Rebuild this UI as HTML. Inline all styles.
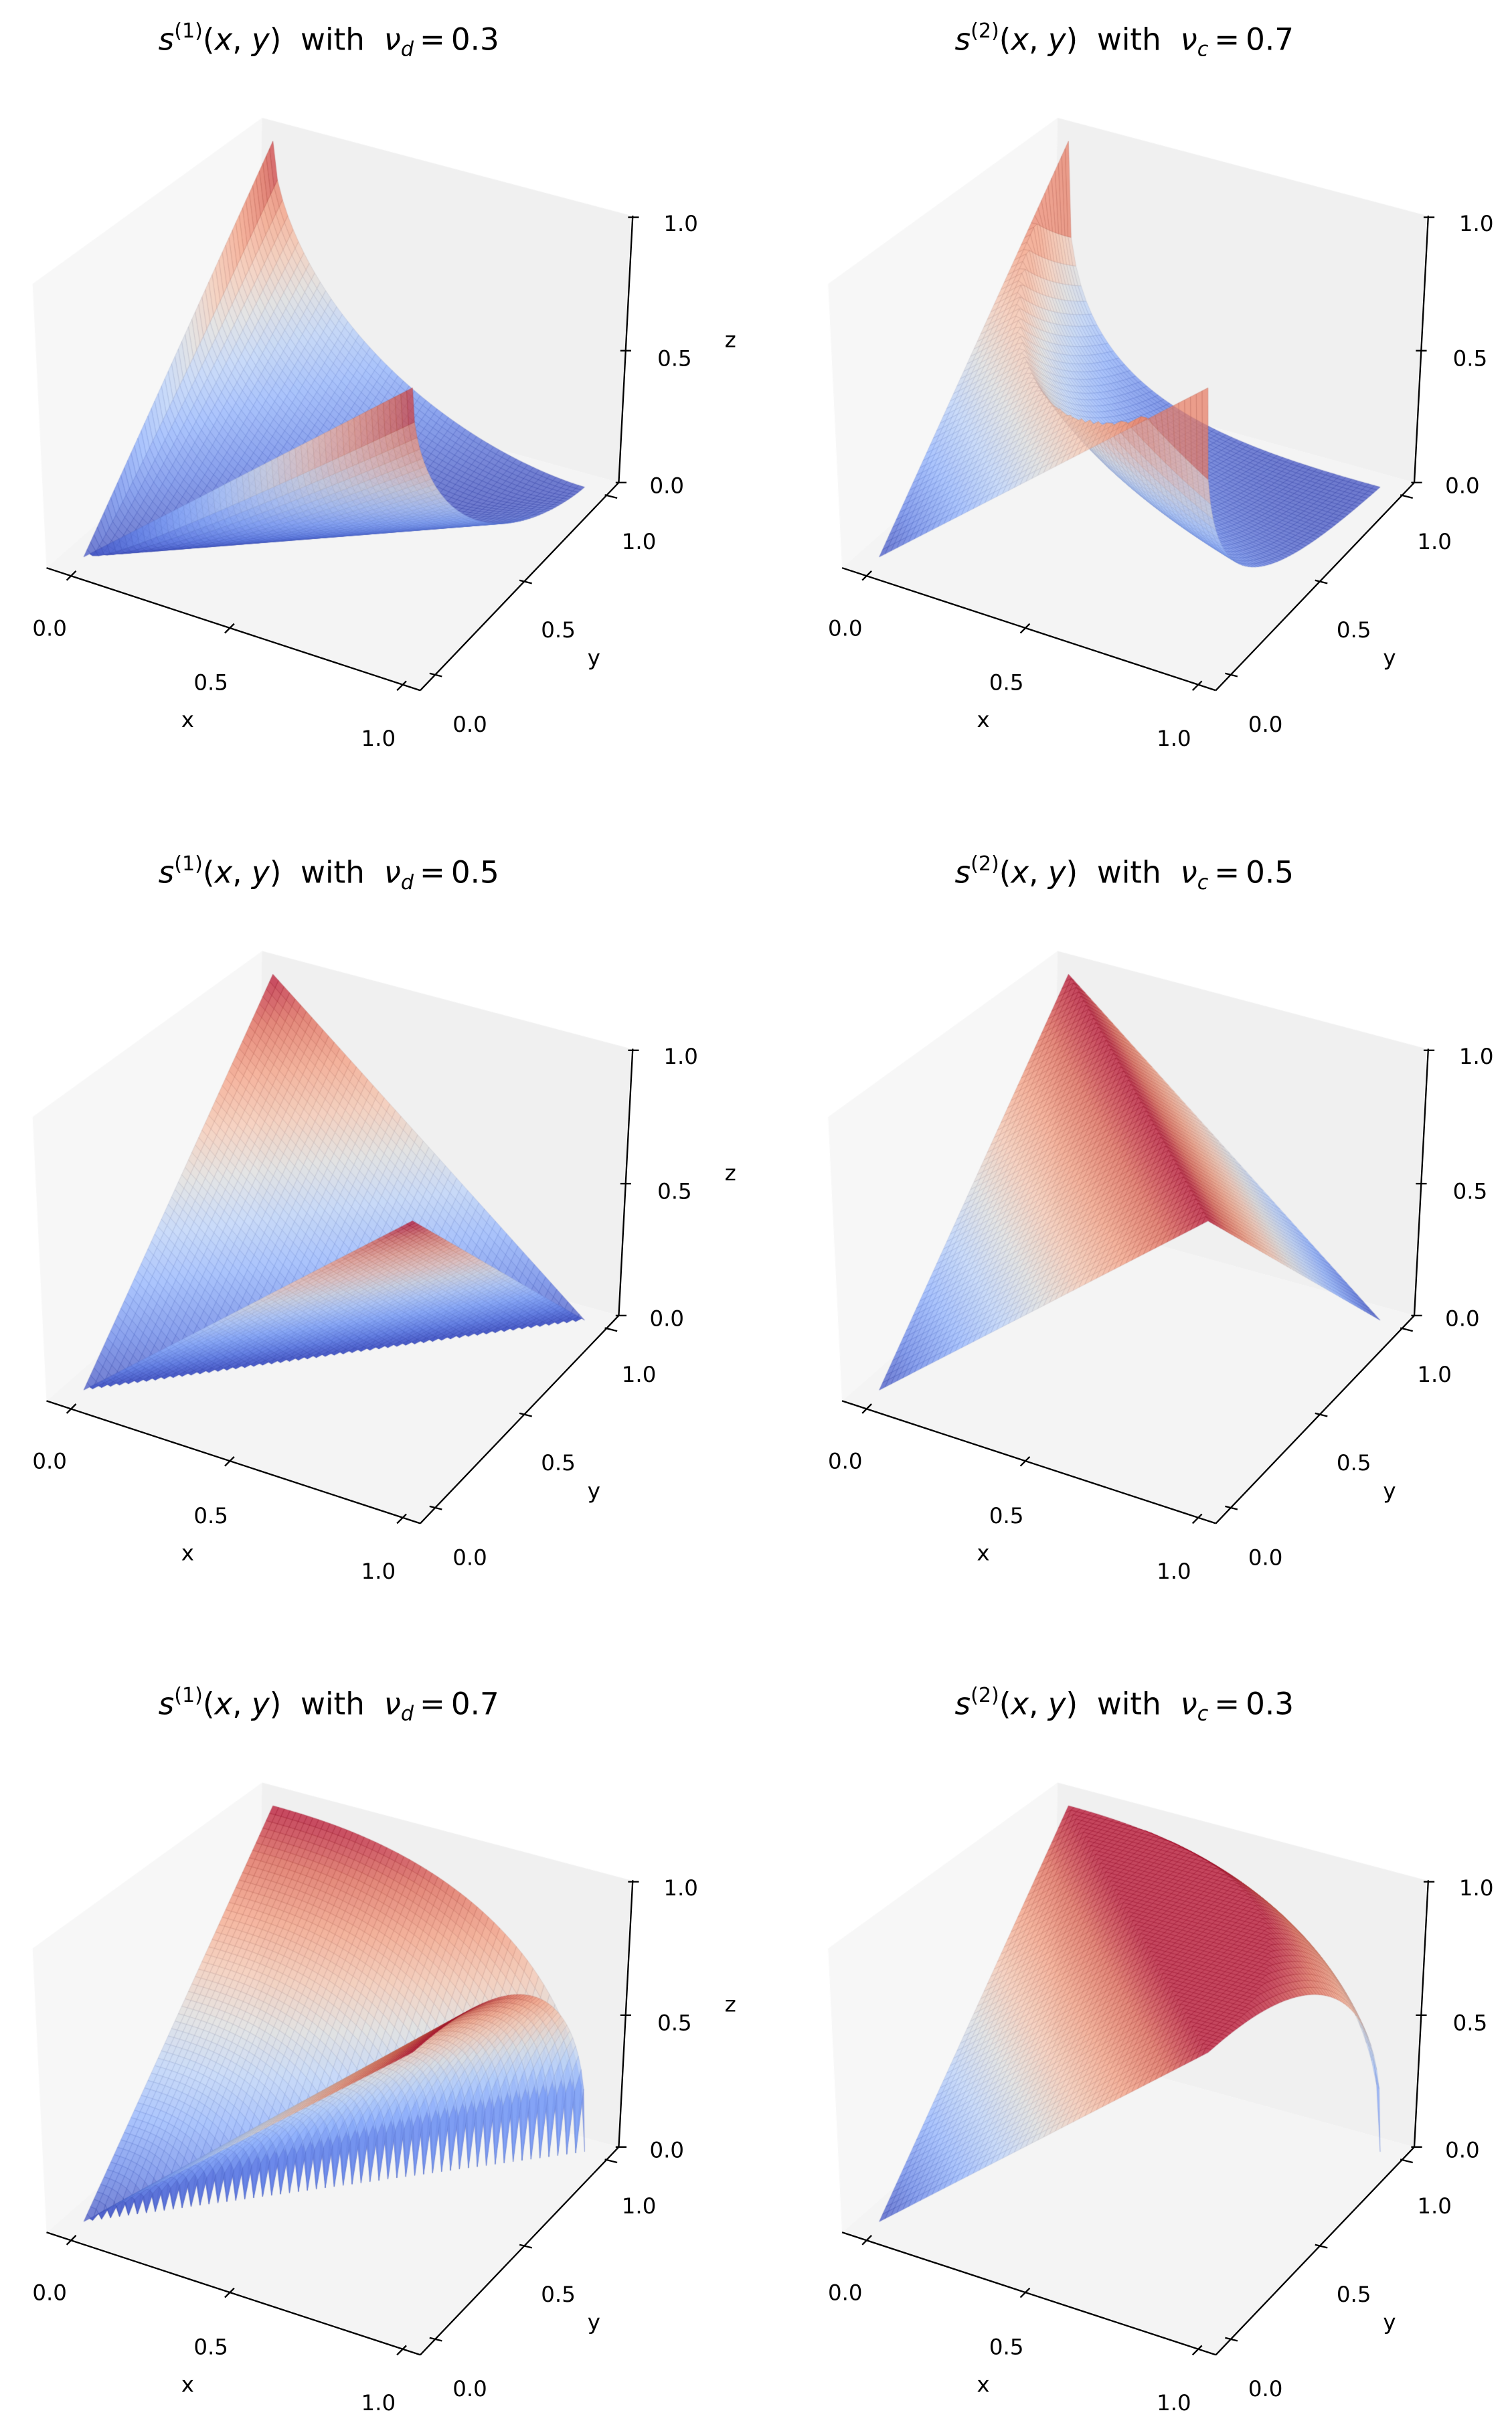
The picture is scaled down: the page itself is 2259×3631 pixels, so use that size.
<!DOCTYPE html>
<html><head><meta charset="utf-8">
<style>
html,body{margin:0;padding:0;background:#fff;}
#wrap{position:relative;width:2259px;height:3631px;overflow:hidden;}
canvas,svg{position:absolute;left:0;top:0;}
</style></head>
<body><div id="wrap">
<canvas id="c" width="2259" height="3631"></canvas>
<svg id="s" width="2259" height="3631" viewBox="0 0 975 1567" xmlns="http://www.w3.org/2000/svg" font-family="DejaVu Sans, Liberation Sans, sans-serif">
<g id="txt"></g>
</svg>
</div>
<script>
var SC=2259/975;
var cv=document.getElementById('c');var ctx=cv.getContext('2d');
ctx.scale(SC,3631/1567);
var O=[54,359],EX=[206.5,57],EY=[116.5,-102],EZ=[5.5,-166];
var cw=[[0,59,76,192],[0.125,98,130,234],[0.25,141,176,254],[0.375,184,208,249],[0.5,221,221,221],[0.625,245,196,173],[0.75,244,154,123],[0.875,222,96,77],[1,180,4,38]];
function cmap(t){t=Math.max(0,Math.min(1,t));for(var i=1;i<cw.length;i++){if(t<=cw[i][0]){var a=cw[i-1],b=cw[i],f=(t-a[0])/(b[0]-a[0]);return [a[1]+f*(b[1]-a[1]),a[2]+f*(b[2]-a[2]),a[3]+f*(b[3]-a[3])];}}return [180,4,38];}
function s1(x,y,nu){var p=nu<0.5?0.6:nu/(1-nu);return Math.pow(Math.abs(Math.pow(x,p)-Math.pow(y,p)),1/p);}
function s2(x,y,nu){var p=(1-nu)/nu;var g=2-Math.pow(x,p)-Math.pow(y,p);g=g>0?Math.pow(g,1/p):0;return Math.min(1,x+y,g);}
function P(ox,oy,x,y,z){return [ox+O[0]+x*EX[0]+y*EY[0]+z*EZ[0],oy+O[1]+x*EX[1]+y*EY[1]+z*EZ[1]];}
function poly(pts,fill){ctx.beginPath();ctx.moveTo(pts[0][0],pts[0][1]);for(var i=1;i<pts.length;i++)ctx.lineTo(pts[i][0],pts[i][1]);ctx.closePath();ctx.fillStyle=fill;ctx.fill();}
var svgns="http://www.w3.org/2000/svg";var G=document.getElementById('txt');
function el(tag,attrs,txt){var e=document.createElementNS(svgns,tag);for(var k in attrs)e.setAttribute(k,attrs[k]);if(txt!=null)e.textContent=txt;G.appendChild(e);return e;}
function line(x1,y1,x2,y2,w){el('line',{x1:x1,y1:y1,x2:x2,y2:y2,stroke:'#000','stroke-width':w||1});}
function lab(x,y,t,fs){el('text',{x:x,y:y,'text-anchor':'middle','dominant-baseline':'central','font-size':fs||14},t);}
function panel(ox,oy,kind,nu,sub){
 poly([[ox+21,oy+183],[ox+169,oy+76],[ox+166,oy+247],[ox+30,oy+366]],'#f7f7f7');
 poly([[ox+169,oy+76],[ox+407,oy+139],[ox+399,oy+311],[ox+166,oy+247]],'#f0f0f0');
 poly([[ox+30,oy+366],[ox+166,oy+247],[ox+399,oy+311],[ox+271,oy+445]],'#f4f4f4');
 var N=56,Z=[],i,j;
 for(i=0;i<=N;i++){Z[i]=[];for(j=0;j<=N;j++){var x=i/N,y=j/N;Z[i][j]=kind==1?s1(x,y,nu):s2(x,y,nu);}}
 var q=[];
 for(i=0;i<N;i++)for(j=0;j<N;j++){var x=(i+0.5)/N,y=(j+0.5)/N,z=(Z[i][j]+Z[i+1][j]+Z[i][j+1]+Z[i+1][j+1])/4;q.push([0.433*x-0.75*y+0.5*z,i,j,z]);}
 q.sort(function(a,b){return a[0]-b[0];});
 ctx.lineWidth=0.35;
 for(var k=0;k<q.length;k++){var i=q[k][1],j=q[k][2],z=q[k][3];
  var pts=[P(ox,oy,i/N,j/N,Z[i][j]),P(ox,oy,(i+1)/N,j/N,Z[i+1][j]),P(ox,oy,(i+1)/N,(j+1)/N,Z[i+1][j+1]),P(ox,oy,i/N,(j+1)/N,Z[i][j+1])];
  var c=cmap(z);
  ctx.beginPath();ctx.moveTo(pts[0][0],pts[0][1]);for(var m=1;m<4;m++)ctx.lineTo(pts[m][0],pts[m][1]);ctx.closePath();
  ctx.fillStyle='rgba('+(c[0]|0)+','+(c[1]|0)+','+(c[2]|0)+',0.72)';ctx.fill();
  ctx.strokeStyle='rgba('+(c[0]*0.8|0)+','+(c[1]*0.8|0)+','+(c[2]*0.85|0)+',0.45)';ctx.stroke();
 }
 line(ox+30,oy+366,ox+271,oy+445);line(ox+271,oy+445,ox+399,oy+311);line(ox+399,oy+311,ox+408,oy+139);
 var xt=[[46,371],[148,405],[259,442]],yt=[[281,435],[339,375],[394,320]],zt=[[400,311],[403,226],[408,140]];
 xt.forEach(function(p){line(ox+p[0]-3,oy+p[1]+3,ox+p[0]+3,oy+p[1]-3);});
 yt.forEach(function(p){line(ox+p[0]-4,oy+p[1]-1,ox+p[0]+4,oy+p[1]+1);});
 zt.forEach(function(p){line(ox+p[0]-3,oy+p[1],ox+p[0]+4,oy+p[1]);});
 lab(ox+32,oy+405,'0.0');lab(ox+136,oy+440,'0.5');lab(ox+244,oy+476,'1.0');lab(ox+121,oy+464,'x');
 lab(ox+303,oy+467,'0.0');lab(ox+360,oy+406,'0.5');lab(ox+412,oy+349,'1.0');lab(ox+383,oy+424,'y');
 lab(ox+430,oy+313,'0.0');lab(ox+435,oy+231,'0.5');lab(ox+439,oy+144,'1.0');lab(ox+471,oy+219,'z');
 var t=el('text',{x:ox+212,y:oy+32,'text-anchor':'middle','font-size':19.5});
 function ts(txt,a){var e=document.createElementNS(svgns,'tspan');for(var k in a)e.setAttribute(k,a[k]);e.textContent=txt;t.appendChild(e);}
 ts('s',{'font-style':'italic'});ts('('+kind+')',{'font-size':13,dy:-8});ts('(',{dy:8});ts('x',{'font-style':'italic'});ts(', ',{});ts('y',{'font-style':'italic'});ts(')\u00a0\u00a0with\u00a0\u00a0',{});
 ts('\u03bd',{'font-style':'italic'});ts(sub,{'font-style':'italic','font-size':13,dy:4});ts('\u2009=\u2009'+nu.toFixed(1),{dy:-4});
}
panel(0,0,1,0.3,'d');panel(513,0,2,0.7,'c');
panel(0,537,1,0.5,'d');panel(513,537,2,0.5,'c');
panel(0,1073,1,0.7,'d');panel(513,1073,2,0.3,'c');
</script>
</body></html>
